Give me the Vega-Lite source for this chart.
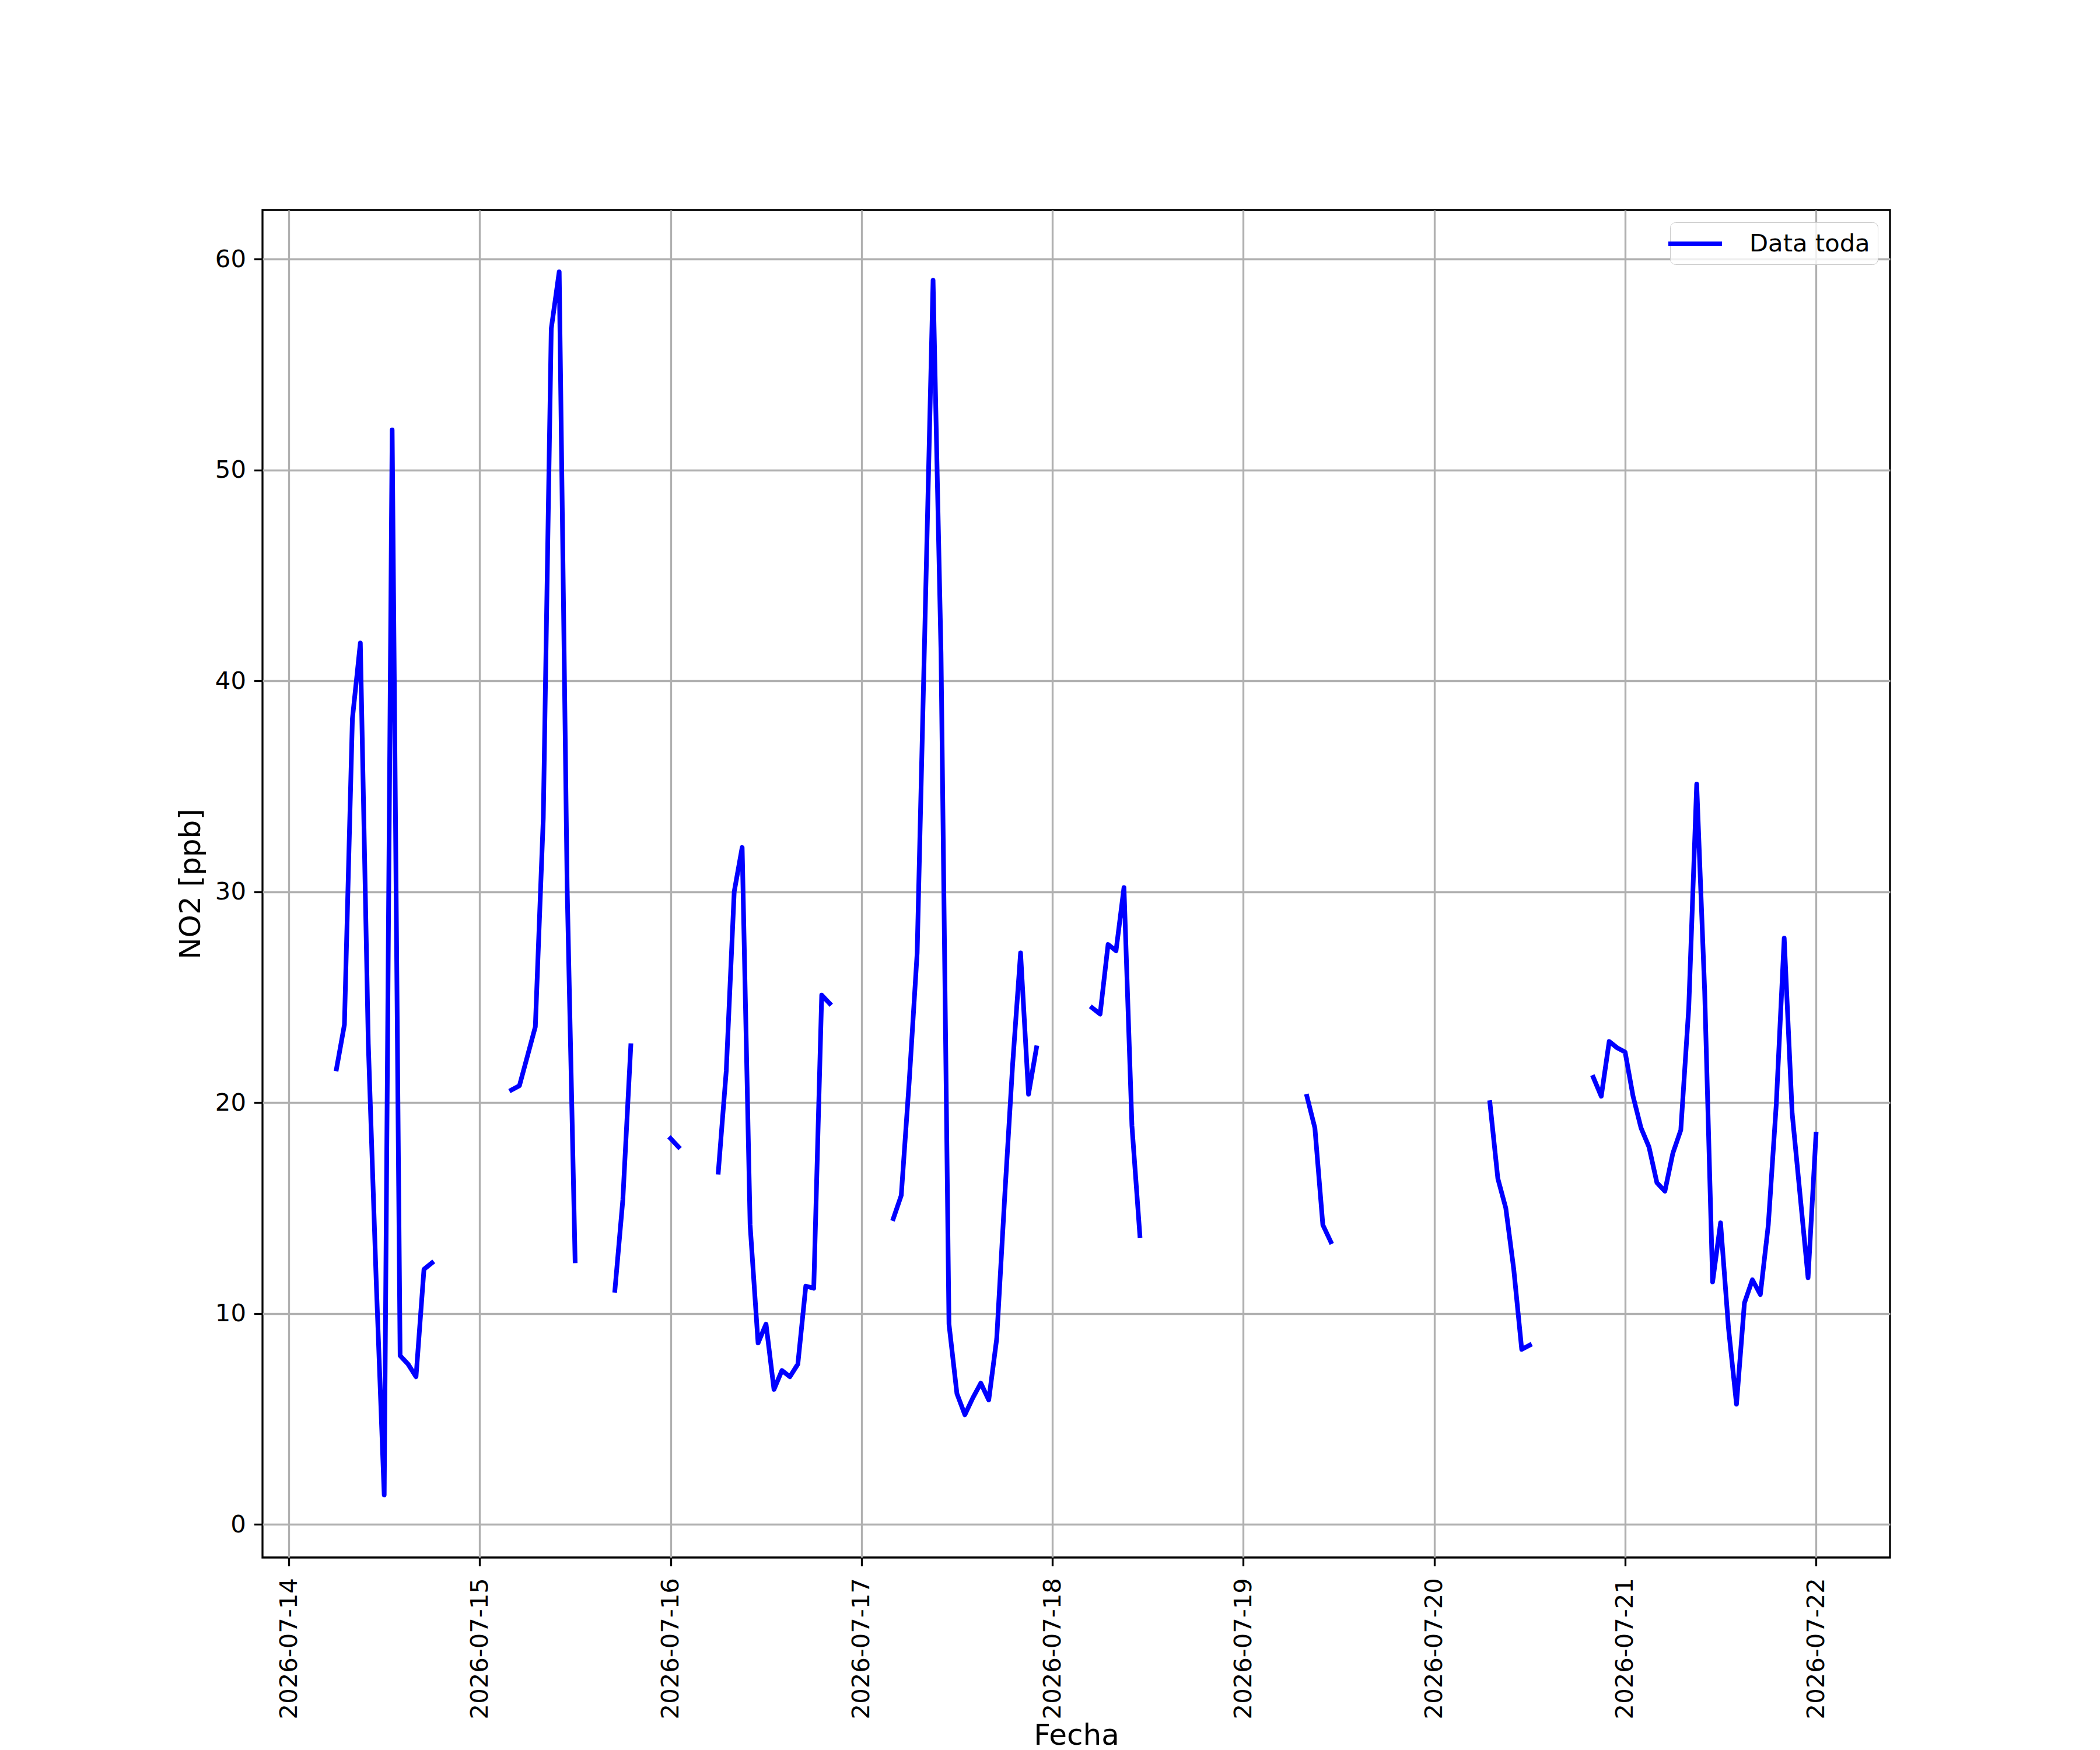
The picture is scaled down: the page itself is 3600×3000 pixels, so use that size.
{
  "$schema": "https://vega.github.io/schema/vega-lite/v6.json",
  "width": 2790,
  "height": 2310,
  "autosize": {"type": "none"},
  "padding": {"left": 450, "top": 360, "right": 360, "bottom": 330},
  "background": "white",
  "data": {
    "values": [
      {"fecha": "2026-07-14T06:00:00", "no2": 21.6},
      {"fecha": "2026-07-14T07:00:00", "no2": 23.7},
      {"fecha": "2026-07-14T08:00:00", "no2": 38.2},
      {"fecha": "2026-07-14T09:00:00", "no2": 41.8},
      {"fecha": "2026-07-14T10:00:00", "no2": 22.8},
      {"fecha": "2026-07-14T11:00:00", "no2": 11.5},
      {"fecha": "2026-07-14T12:00:00", "no2": 1.4},
      {"fecha": "2026-07-14T13:00:00", "no2": 51.9},
      {"fecha": "2026-07-14T14:00:00", "no2": 8.0},
      {"fecha": "2026-07-14T15:00:00", "no2": 7.6},
      {"fecha": "2026-07-14T16:00:00", "no2": 7.0},
      {"fecha": "2026-07-14T17:00:00", "no2": 12.1},
      {"fecha": "2026-07-14T18:00:00", "no2": 12.4},
      {"fecha": "2026-07-14T19:00:00", "no2": null},
      {"fecha": "2026-07-15T04:00:00", "no2": 20.6},
      {"fecha": "2026-07-15T05:00:00", "no2": 20.8},
      {"fecha": "2026-07-15T06:00:00", "no2": 22.2},
      {"fecha": "2026-07-15T07:00:00", "no2": 23.6},
      {"fecha": "2026-07-15T08:00:00", "no2": 33.5},
      {"fecha": "2026-07-15T09:00:00", "no2": 56.7},
      {"fecha": "2026-07-15T10:00:00", "no2": 59.4},
      {"fecha": "2026-07-15T11:00:00", "no2": 30.2},
      {"fecha": "2026-07-15T12:00:00", "no2": 12.5},
      {"fecha": "2026-07-15T13:00:00", "no2": null},
      {"fecha": "2026-07-15T17:00:00", "no2": 11.1},
      {"fecha": "2026-07-15T18:00:00", "no2": 15.4},
      {"fecha": "2026-07-15T19:00:00", "no2": 22.7},
      {"fecha": "2026-07-15T20:00:00", "no2": null},
      {"fecha": "2026-07-16T00:00:00", "no2": 18.3},
      {"fecha": "2026-07-16T01:00:00", "no2": 17.9},
      {"fecha": "2026-07-16T02:00:00", "no2": null},
      {"fecha": "2026-07-16T06:00:00", "no2": 16.7},
      {"fecha": "2026-07-16T07:00:00", "no2": 21.5},
      {"fecha": "2026-07-16T08:00:00", "no2": 30.0},
      {"fecha": "2026-07-16T09:00:00", "no2": 32.1},
      {"fecha": "2026-07-16T10:00:00", "no2": 14.2},
      {"fecha": "2026-07-16T11:00:00", "no2": 8.6},
      {"fecha": "2026-07-16T12:00:00", "no2": 9.5},
      {"fecha": "2026-07-16T13:00:00", "no2": 6.4},
      {"fecha": "2026-07-16T14:00:00", "no2": 7.3},
      {"fecha": "2026-07-16T15:00:00", "no2": 7.0},
      {"fecha": "2026-07-16T16:00:00", "no2": 7.6},
      {"fecha": "2026-07-16T17:00:00", "no2": 11.3},
      {"fecha": "2026-07-16T18:00:00", "no2": 11.2},
      {"fecha": "2026-07-16T19:00:00", "no2": 25.1},
      {"fecha": "2026-07-16T20:00:00", "no2": 24.7},
      {"fecha": "2026-07-16T21:00:00", "no2": null},
      {"fecha": "2026-07-17T04:00:00", "no2": 14.5},
      {"fecha": "2026-07-17T05:00:00", "no2": 15.6},
      {"fecha": "2026-07-17T06:00:00", "no2": 21.0},
      {"fecha": "2026-07-17T07:00:00", "no2": 27.1},
      {"fecha": "2026-07-17T08:00:00", "no2": 43.0},
      {"fecha": "2026-07-17T09:00:00", "no2": 59.0},
      {"fecha": "2026-07-17T10:00:00", "no2": 41.3},
      {"fecha": "2026-07-17T11:00:00", "no2": 9.5},
      {"fecha": "2026-07-17T12:00:00", "no2": 6.2},
      {"fecha": "2026-07-17T13:00:00", "no2": 5.2},
      {"fecha": "2026-07-17T14:00:00", "no2": 6.0},
      {"fecha": "2026-07-17T15:00:00", "no2": 6.7},
      {"fecha": "2026-07-17T16:00:00", "no2": 5.9},
      {"fecha": "2026-07-17T17:00:00", "no2": 8.8},
      {"fecha": "2026-07-17T18:00:00", "no2": 15.5},
      {"fecha": "2026-07-17T19:00:00", "no2": 21.8},
      {"fecha": "2026-07-17T20:00:00", "no2": 27.1},
      {"fecha": "2026-07-17T21:00:00", "no2": 20.4},
      {"fecha": "2026-07-17T22:00:00", "no2": 22.6},
      {"fecha": "2026-07-17T23:00:00", "no2": null},
      {"fecha": "2026-07-18T05:00:00", "no2": 24.5},
      {"fecha": "2026-07-18T06:00:00", "no2": 24.2},
      {"fecha": "2026-07-18T07:00:00", "no2": 27.5},
      {"fecha": "2026-07-18T08:00:00", "no2": 27.2},
      {"fecha": "2026-07-18T09:00:00", "no2": 30.2},
      {"fecha": "2026-07-18T10:00:00", "no2": 18.9},
      {"fecha": "2026-07-18T11:00:00", "no2": 13.7},
      {"fecha": "2026-07-18T12:00:00", "no2": null},
      {"fecha": "2026-07-19T08:00:00", "no2": 20.3},
      {"fecha": "2026-07-19T09:00:00", "no2": 18.8},
      {"fecha": "2026-07-19T10:00:00", "no2": 14.2},
      {"fecha": "2026-07-19T11:00:00", "no2": 13.4},
      {"fecha": "2026-07-19T12:00:00", "no2": null},
      {"fecha": "2026-07-20T07:00:00", "no2": 20.0},
      {"fecha": "2026-07-20T08:00:00", "no2": 16.4},
      {"fecha": "2026-07-20T09:00:00", "no2": 15.0},
      {"fecha": "2026-07-20T10:00:00", "no2": 12.1},
      {"fecha": "2026-07-20T11:00:00", "no2": 8.3},
      {"fecha": "2026-07-20T12:00:00", "no2": 8.5},
      {"fecha": "2026-07-20T13:00:00", "no2": null},
      {"fecha": "2026-07-20T20:00:00", "no2": 21.2},
      {"fecha": "2026-07-20T21:00:00", "no2": 20.3},
      {"fecha": "2026-07-20T22:00:00", "no2": 22.9},
      {"fecha": "2026-07-20T23:00:00", "no2": 22.6},
      {"fecha": "2026-07-21T00:00:00", "no2": 22.4},
      {"fecha": "2026-07-21T01:00:00", "no2": 20.3},
      {"fecha": "2026-07-21T02:00:00", "no2": 18.8},
      {"fecha": "2026-07-21T03:00:00", "no2": 17.9},
      {"fecha": "2026-07-21T04:00:00", "no2": 16.2},
      {"fecha": "2026-07-21T05:00:00", "no2": 15.8},
      {"fecha": "2026-07-21T06:00:00", "no2": 17.6},
      {"fecha": "2026-07-21T07:00:00", "no2": 18.7},
      {"fecha": "2026-07-21T08:00:00", "no2": 24.5},
      {"fecha": "2026-07-21T09:00:00", "no2": 35.1},
      {"fecha": "2026-07-21T10:00:00", "no2": 25.3},
      {"fecha": "2026-07-21T11:00:00", "no2": 11.5},
      {"fecha": "2026-07-21T12:00:00", "no2": 14.3},
      {"fecha": "2026-07-21T13:00:00", "no2": 9.3},
      {"fecha": "2026-07-21T14:00:00", "no2": 5.7},
      {"fecha": "2026-07-21T15:00:00", "no2": 10.5},
      {"fecha": "2026-07-21T16:00:00", "no2": 11.6},
      {"fecha": "2026-07-21T17:00:00", "no2": 10.9},
      {"fecha": "2026-07-21T18:00:00", "no2": 14.2},
      {"fecha": "2026-07-21T19:00:00", "no2": 19.9},
      {"fecha": "2026-07-21T20:00:00", "no2": 27.8},
      {"fecha": "2026-07-21T21:00:00", "no2": 19.5},
      {"fecha": "2026-07-21T22:00:00", "no2": 15.6},
      {"fecha": "2026-07-21T23:00:00", "no2": 11.7},
      {"fecha": "2026-07-22T00:00:00", "no2": 18.5}
    ]
  },
  "mark": {
    "type": "line",
    "strokeWidth": 8,
    "strokeCap": "square",
    "strokeJoin": "round",
    "invalid": "break-paths-filter-domains"
  },
  "encoding": {
    "x": {
      "field": "fecha",
      "type": "temporal",
      "title": "Fecha",
      "scale": {
        "domain": [
          {"year": 2026, "month": 7, "date": 13, "hours": 20, "minutes": 42},
          {"year": 2026, "month": 7, "date": 22, "hours": 9, "minutes": 18}
        ],
        "nice": false
      },
      "axis": {
        "format": "%Y-%m-%d",
        "tickCount": {"interval": "day", "step": 1},
        "labelAngle": 270,
        "labelAlign": "right",
        "labelBaseline": "middle",
        "labelPadding": 20,
        "labelOverlap": false,
        "labelFlush": false,
        "labelLimit": 1000,
        "titlePadding": 80
      }
    },
    "y": {
      "field": "no2",
      "type": "quantitative",
      "title": "NO2 [ppb]",
      "scale": {"domain": [-1.57, 62.33], "nice": false, "zero": false},
      "axis": {
        "values": [0, 10, 20, 30, 40, 50, 60],
        "labelPadding": 14,
        "titlePadding": 16
      }
    },
    "color": {
      "datum": "Data toda",
      "type": "nominal",
      "scale": {"range": ["#0000ff"]},
      "legend": {
        "title": null,
        "orient": "top-right",
        "offset": 21,
        "padding": 13,
        "symbolType": "M-2,0H2.6",
        "symbolSize": 1600,
        "symbolStrokeWidth": 8,
        "symbolFillColor": "transparent",
        "labelOffset": 75,
        "labelFontSize": 41.7,
        "labelFont": "DejaVu Sans",
        "labelColor": "black",
        "labelLimit": 1000,
        "strokeColor": "#cccccc",
        "cornerRadius": 9,
        "fillColor": "rgba(255,255,255,0.8)"
      }
    }
  },
  "config": {
    "font": "DejaVu Sans",
    "view": {"stroke": "black", "strokeWidth": 3.3},
    "axis": {
      "grid": true,
      "gridColor": "#b0b0b0",
      "gridWidth": 3.3,
      "gridOpacity": 1,
      "domain": false,
      "ticks": true,
      "tickColor": "black",
      "tickWidth": 3.3,
      "tickSize": 14.6,
      "labelFont": "DejaVu Sans",
      "labelFontSize": 41.7,
      "labelColor": "black",
      "titleFont": "DejaVu Sans",
      "titleFontSize": 50,
      "titleFontWeight": "normal",
      "titleColor": "black"
    }
  }
}
